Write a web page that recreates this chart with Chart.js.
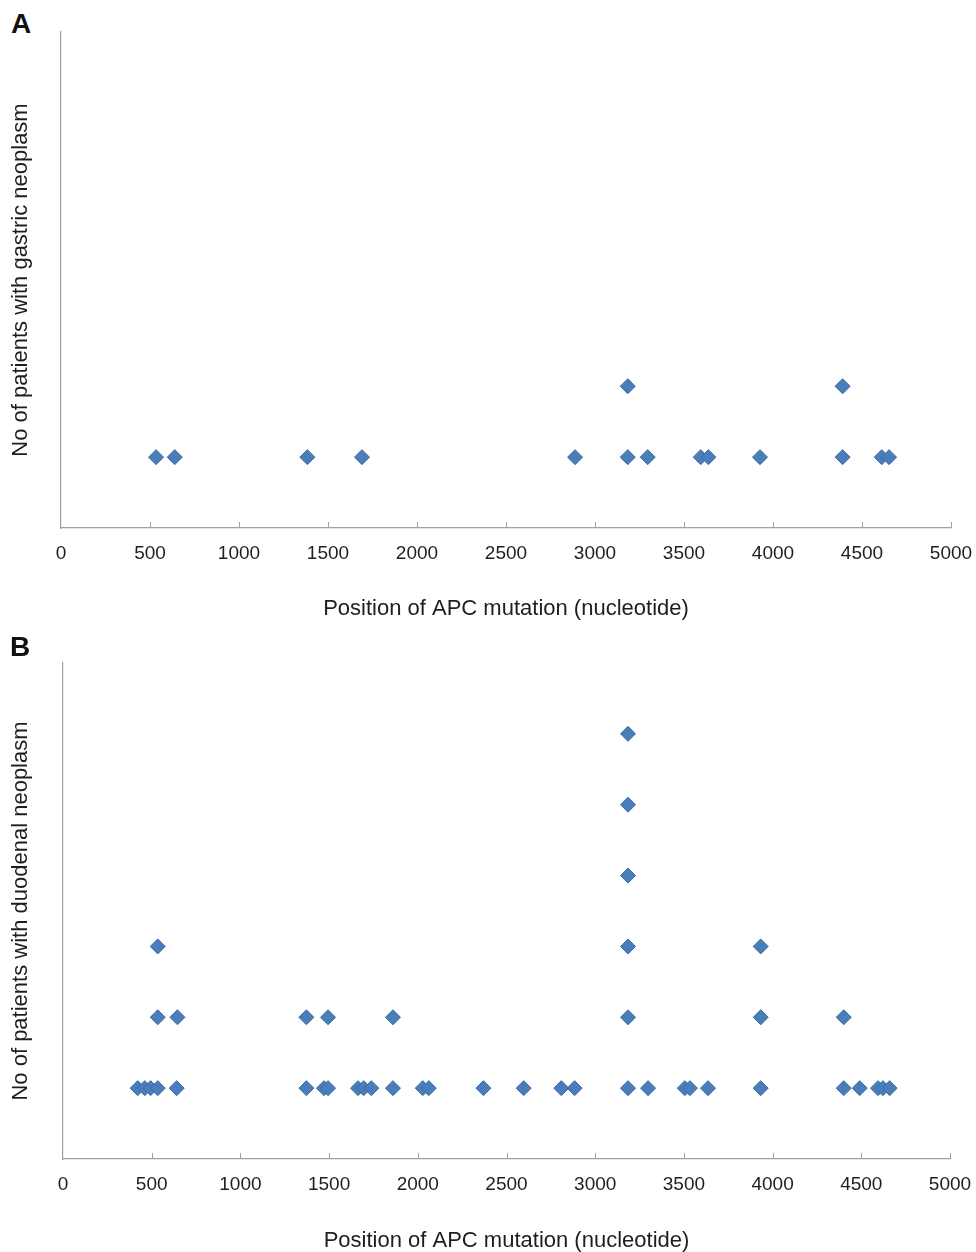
<!DOCTYPE html>
<html lang="en">
<head>
    <meta charset="UTF-8">
    <title>APC mutation position</title>
    <script src="https://cdn.jsdelivr.net/npm/chart.js"></script>
    <style>
        body {
            margin: 0;
            background: #fff;
            overflow: hidden;
            font-family: "Liberation Sans", Arial, sans-serif;
        }
        .panel {
            position: absolute;
            left: 0;
            width: 976px;
        }
        .letter {
            position: absolute;
            font-weight: bold;
            font-size: 28px;
            color: #111;
        }
    </style>
</head>
<body>

<div class="letter" style="left:11px; top:8px;">A</div>
<div class="panel" style="top:0; height:640px;"><canvas id="chartA"></canvas></div>

<div class="letter" style="left:10px; top:631px;">B</div>
<div class="panel" style="top:634px; height:620px;"><canvas id="chartB"></canvas></div>

<script>
// x tick values (nucleotide position)
const xTicks = [0, 500, 1000, 1500, 2000, 2500, 3000, 3500, 4000, 4500, 5000];

// A: gastric neoplasm - position of mutation and stacked count
const gastricPositions = [534, 639, 1384, 1691, 2888, 3184, 3184, 3296, 3594, 3637, 3927, 4391, 4391, 4611, 4652];
const gastricCounts    = [1,   1,   1,    1,    1,    1,    2,    1,    1,    1,    1,    1,    2,    1,    1];

// B: duodenal neoplasm
const duodenalPositions = [421, 461, 494, 534, 641, 1372, 1471, 1494, 1663, 1695, 1738, 1860, 2028, 2062, 2370,
                           2597, 2809, 2884, 3185, 3298, 3505, 3534, 3636, 3933, 4401, 4491, 4594, 4622, 4660,
                           534, 645, 1372, 1494, 1860, 3185, 3933, 4401,
                           534, 3185, 3933,
                           3185, 3185, 3185];
const duodenalCounts    = [1, 1, 1, 1, 1, 1, 1, 1, 1, 1, 1, 1, 1, 1, 1,
                           1, 1, 1, 1, 1, 1, 1, 1, 1, 1, 1, 1, 1, 1,
                           2, 2, 2, 2, 2, 2, 2, 2,
                           3, 3, 3,
                           4, 5, 6];

const axisGrey = '#a0a0a0';
const textColor = '#1e1e1e';
const fontFamily = '"Liberation Sans", Arial, sans-serif';

// small ticks that point into the plot, as in the original figure
const innerTicks = {
    id: 'innerTicks',
    afterDraw(chart) {
        const ctx = chart.ctx;
        const x = chart.scales.x;
        ctx.save();
        ctx.strokeStyle = axisGrey;
        ctx.lineWidth = 1;
        xTicks.forEach(function (v) {
            if (v === 0) return;
            const px = Math.round(x.getPixelForValue(v)) + 0.5;
            ctx.beginPath();
            ctx.moveTo(px, x.top);
            ctx.lineTo(px, x.top - 6);
            ctx.stroke();
        });
        ctx.restore();
    }
};

function makeChart(id, positions, counts, yTitle, yWidth, xHeight, padRight, padTop, titleBottom) {
    const points = positions.map(function (p, i) { return { x: p, y: counts[i] }; });
    return new Chart(document.getElementById(id), {
        type: 'scatter',
        data: {
            datasets: [{
                data: points,
                pointStyle: 'rectRot',
                radius: 7.5,
                hoverRadius: 7.5,
                backgroundColor: '#4a7ebb',
                borderColor: '#3b69a1',
                borderWidth: 1
            }]
        },
        options: {
            responsive: true,
            maintainAspectRatio: false,
            animation: false,
            layout: { padding: { left: 0, right: padRight, top: padTop, bottom: 0 } },
            plugins: {
                legend: { display: false },
                tooltip: { enabled: false }
            },
            scales: {
                x: {
                    type: 'linear',
                    min: 0,
                    max: 5000,
                    afterBuildTicks: function (scale) {
                        scale.ticks = xTicks.map(function (v) { return { value: v }; });
                    },
                    afterFit: function (scale) {
                        scale.height = xHeight;
                        // let the layout padding decide the right edge
                        scale.paddingLeft = 0;
                        scale.paddingRight = 0;
                    },
                    grid: { display: false, drawTicks: false },
                    border: { display: true, color: axisGrey, width: 1.2 },
                    ticks: {
                        padding: 14,
                        color: textColor,
                        maxRotation: 0,
                        autoSkip: false,
                        callback: function (v) { return String(v); },
                        font: { family: fontFamily, size: 19 }
                    },
                    title: {
                        display: true,
                        text: 'Position of APC mutation (nucleotide)',
                        color: textColor,
                        padding: { top: 0, bottom: titleBottom },
                        font: { family: fontFamily, size: 22 }
                    }
                },
                y: {
                    min: 0,
                    max: 7,
                    afterFit: function (scale) { scale.width = yWidth; },
                    grid: { display: false, drawTicks: false },
                    border: { display: true, color: axisGrey, width: 1.2 },
                    ticks: { display: false },
                    title: {
                        display: true,
                        text: yTitle,
                        color: textColor,
                        padding: { top: 8, bottom: 0 },
                        font: { family: fontFamily, size: 22 }
                    }
                }
            }
        },
        plugins: [innerTicks]
    });
}

makeChart('chartA', gastricPositions, gastricCounts, 'No of patients with gastric neoplasm', 61, 112, 25, 32, 18);
makeChart('chartB', duodenalPositions, duodenalCounts, 'No of patients with duodenal neoplasm', 63, 95, 26, 29, 0);
</script>
</body>
</html>
